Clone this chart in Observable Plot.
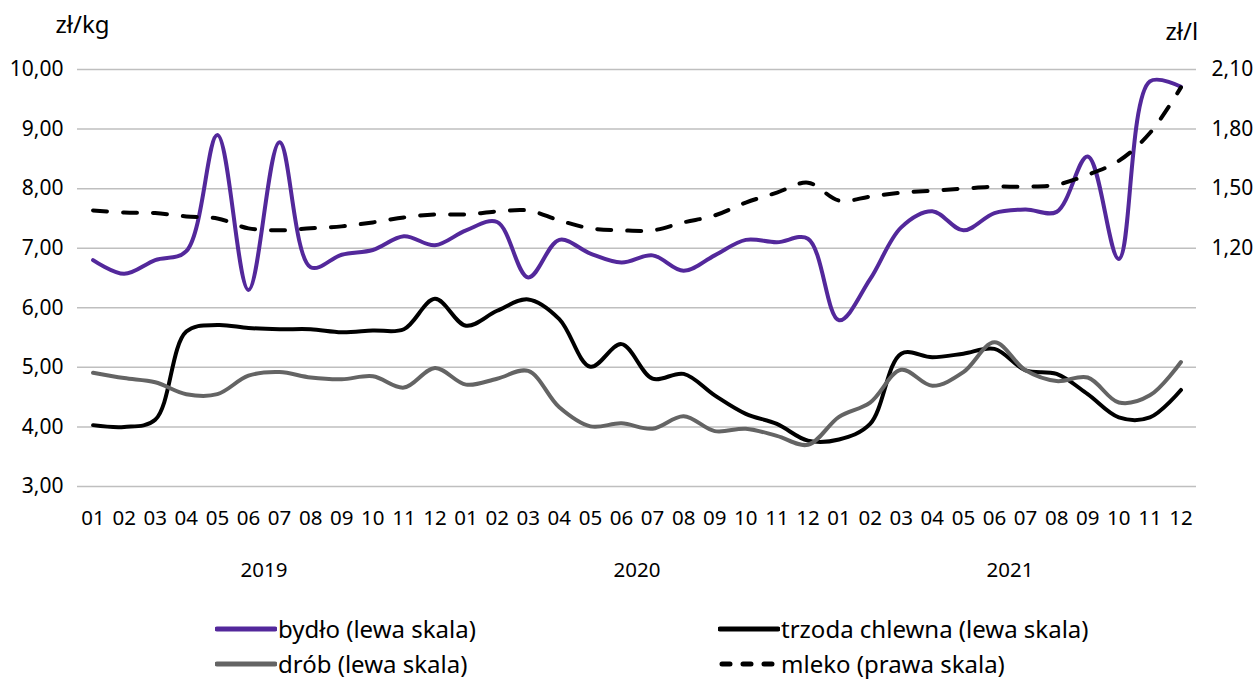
<!DOCTYPE html>
<html><head><meta charset="utf-8">
<script src="https://cdn.jsdelivr.net/npm/d3@7"></script>
<script src="https://cdn.jsdelivr.net/npm/@observablehq/plot@0.6"></script>
<style>
body{margin:0;background:#fff;font-family:"Noto Sans",sans-serif;}
#wrap{position:relative;width:1255px;height:679px;}
#legend{position:absolute;left:0;top:600px;width:1255px;height:79px;font-size:24px;color:#000;}
.item{position:absolute;display:flex;align-items:center;white-space:nowrap;height:30px;line-height:30px;}
.item svg{display:block;margin-right:1px;}
</style></head><body><div id="wrap"><div id="chart"></div><div id="legend"></div></div>
<script>
const months = ["01","02","03","04","05","06","07","08","09","10","11","12"];
const years = ["2019","2020","2021"];
const seriesNames = ["bydło (lewa skala)","trzoda chlewna (lewa skala)","drób (lewa skala)","mleko (prawa skala)"];
const colors = ["#53289b","#000000","#646464","#000000"];

// zł/kg (left scale)
const bydlo = [6.80,6.57,6.80,6.95,8.90,6.30,8.78,6.68,6.89,6.97,7.20,7.05,
               7.30,7.44,6.51,7.14,6.91,6.76,6.88,6.62,6.88,7.14,7.10,7.16,
               5.79,6.48,7.35,7.62,7.30,7.59,7.65,7.61,8.54,6.82,9.80,9.71];
const trzoda = [4.03,4.00,4.12,5.60,5.71,5.66,5.64,5.64,5.59,5.62,5.64,6.15,
                5.70,5.95,6.14,5.81,5.01,5.39,4.81,4.89,4.53,4.22,4.05,3.77,
                3.79,4.05,5.23,5.17,5.23,5.31,4.95,4.89,4.55,4.16,4.16,4.62];
const drob = [4.91,4.82,4.75,4.55,4.55,4.86,4.92,4.83,4.80,4.85,4.66,4.99,
              4.71,4.81,4.94,4.33,4.01,4.06,3.97,4.18,3.93,3.97,3.85,3.70,
              4.17,4.41,4.96,4.69,4.92,5.42,4.95,4.77,4.83,4.41,4.53,5.09];
// zł/l (right scale)
const mleko = [1.39,1.38,1.377,1.36,1.35,1.30,1.29,1.30,1.31,1.33,1.355,1.37,
               1.37,1.385,1.39,1.34,1.30,1.29,1.29,1.33,1.365,1.43,1.48,1.53,
               1.44,1.46,1.48,1.49,1.50,1.51,1.51,1.52,1.57,1.64,1.78,2.01];

const leftTicks = [3,4,5,6,7,8,9,10];
const rightTicks = [1.2,1.5,1.8,2.1];

// right axis is aligned with the left one: 1,20 ↔ 7,00 and 2,10 ↔ 10,00
const toLeft = v => 7 + (v - 1.2) / 0.3;
const toRight = v => 1.2 + (v - 7) * 0.3;
const fmt = d => d3.format(".2f")(d).replace(".", ",");

const idx = d3.range(months.length * years.length);
const yearCenters = years.map((_, k) => k * 12 + 5.5);

const lineOpts = {curve: "catmull-rom", strokeWidth: 4, strokeLinejoin: "round", strokeLinecap: "round"};

const chart = Plot.plot({
  width: 1255, height: 600,
  marginLeft: 77, marginRight: 59, marginTop: 69, marginBottom: 114,
  style: {fontFamily: "Noto Sans", fontSize: "20px", color: "#000", background: "#fff"},
  x: {type: "linear", domain: [-0.5, idx.length - 0.5], axis: null},
  y: {domain: [3, 10], axis: null},
  marks: [
    Plot.gridY(leftTicks, {stroke: "#bfbfbf", strokeOpacity: 1, strokeWidth: 1.5}),
    Plot.axisY(leftTicks, {anchor: "left", tickSize: 0, tickPadding: 14, tickFormat: fmt, label: null, fontSize: 21}),
    Plot.axisY(rightTicks.map(toLeft), {anchor: "right", tickSize: 0, tickPadding: 15, tickFormat: v => fmt(toRight(v)), label: null, fontSize: 21}),
    Plot.axisX(idx, {anchor: "bottom", tickSize: 0, tickPadding: 24, tickFormat: i => months[i % 12], label: null, fontSize: 20.5}),
    Plot.axisX(yearCenters, {anchor: "bottom", tickSize: 0, tickPadding: 76, tickFormat: (d, i) => years[i], label: null, fontSize: 20.5}),
    Plot.line(idx, {x: i => i, y: i => bydlo[i], stroke: colors[0], ...lineOpts}),
    Plot.line(idx, {x: i => i, y: i => trzoda[i], stroke: colors[1], ...lineOpts}),
    Plot.line(idx, {x: i => i, y: i => drob[i], stroke: colors[2], ...lineOpts}),
    Plot.line(idx, {x: i => i, y: i => toLeft(mleko[i]), stroke: colors[3], strokeDasharray: "14,16", ...lineOpts}),
    Plot.text(["zł/kg"], {frameAnchor: "top-left", lineAnchor: "middle", dx: -22, dy: -44, textAnchor: "start", fontSize: 24}),
    Plot.text(["zł/l"], {frameAnchor: "top-right", lineAnchor: "middle", dx: -31, dy: -37, textAnchor: "start", fontSize: 24})
  ]
});
document.getElementById("chart").appendChild(chart);

// legend (2 x 2)
const legend = document.getElementById("legend");
const slots = [[215, 29], [718, 29], [215, 64], [718, 64]];
seriesNames.forEach((name, s) => {
  const [lx, ly] = slots[s];
  const div = document.createElement("div");
  div.className = "item";
  div.style.left = lx + "px";
  div.style.top = (ly - 15) + "px";
  const dashed = s === 3;
  div.innerHTML = `<svg width="62" height="10"><line x1="${dashed ? 4 : 2}" y1="5" x2="${dashed ? 58 : 60}" y2="5" stroke="${colors[s]}" stroke-width="5" stroke-linecap="round" ${dashed ? 'stroke-dasharray="8,13"' : ''}/></svg><span>${name}</span>`;
  legend.appendChild(div);
});
</script></body></html>
